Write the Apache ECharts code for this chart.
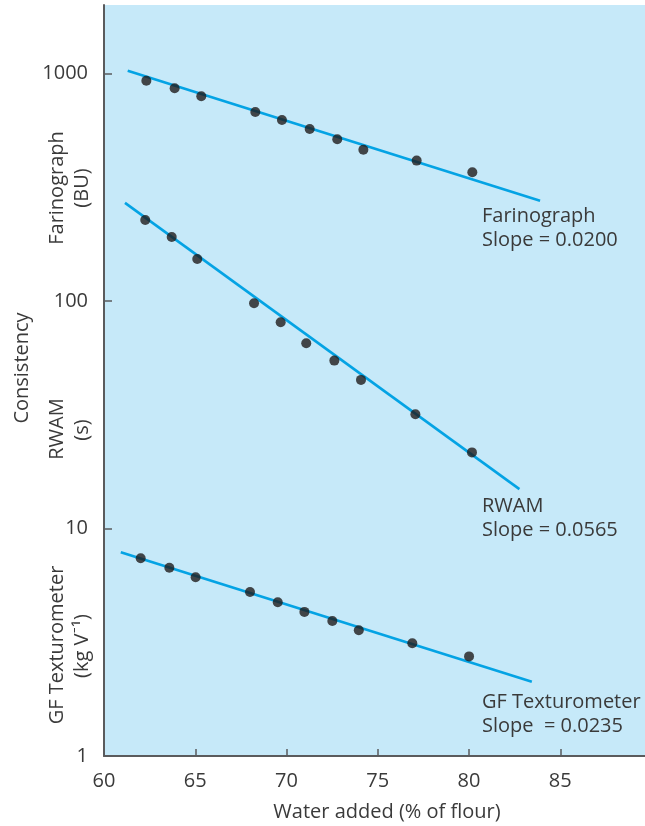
<!DOCTYPE html>
<html>
<head>
<meta charset="utf-8">
<script src="https://cdn.jsdelivr.net/npm/echarts@6/dist/echarts.min.js"></script>
<style>
  html, body { margin: 0; padding: 0; background: #ffffff; }
  #chart { width: 645px; height: 826px; }
</style>
</head>
<body>
<div id="chart"></div>
<script>
// ---- data ----
const xTicks = [60, 65, 70, 75, 80, 85];
const yTicks = [1, 10, 100, 1000];

const farinoWater = [62.32, 63.87, 65.33, 68.29, 69.75, 71.27, 72.78, 74.21, 77.13, 80.18];
const farinoBU = [929, 861, 794, 677, 625, 570, 514, 462, 414, 368];
const farinoFitWater = [61.3, 83.89];
const farinoFit = [1029, 276];

const rwamWater = [62.26, 63.71, 65.11, 68.22, 69.68, 71.08, 72.62, 74.08, 77.06, 80.16];
const rwamSec = [227, 191, 153, 97.7, 80.6, 65.2, 54.7, 45.0, 31.8, 21.6];
const rwamFitWater = [61.15, 82.76];
const rwamFit = [270, 14.9];

const gfWater = [62.01, 63.58, 65.02, 68.0, 69.52, 70.98, 72.51, 73.96, 76.89, 80.0];
const gfKgV = [7.40, 6.72, 6.10, 5.26, 4.74, 4.30, 3.92, 3.57, 3.13, 2.74];
const gfFitWater = [60.92, 83.44];
const gfFit = [7.86, 2.12];

// ---- helpers ----
const pair = (xs, ys) => xs.map((x, i) => [x, ys[i]]);
const FONT = '"Open Sans", Lato, sans-serif';
const FS = 20;
const TXT = '#3a3a3a';
const LINE = '#04a3e4';
const DOT = '#1f1b1c';
const AXIS = '#5a5b5d';

function fitLine(name, xs, ys) {
  return {
    name, type: 'line', data: pair(xs, ys), showSymbol: false, symbol: 'none',
    lineStyle: { color: LINE, width: 2.6 }, z: 2, silent: true, animation: false
  };
}
function dots(name, xs, ys) {
  return {
    name, type: 'scatter', data: pair(xs, ys), symbol: 'circle', symbolSize: 10,
    itemStyle: { color: DOT }, z: 3, silent: true, animation: false
  };
}
function txt(x, y, text, opts) {
  return Object.assign({
    type: 'text', x, y, silent: true,
    style: Object.assign({ text, font: FS + 'px ' + FONT, fill: TXT, textAlign: 'left', textVerticalAlign: 'middle' }, (opts && opts.style) || {})
  }, opts && opts.rotation !== undefined ? { rotation: opts.rotation } : {});
}
const R = Math.PI / 2;

const chart = echarts.init(document.getElementById('chart'), null, { renderer: 'canvas' });
chart.setOption({
  animation: false,
  backgroundColor: '#ffffff',
  grid: {
    left: 104, right: 0, top: 5, bottom: 70,
    show: true, backgroundColor: '#c6e9f9', borderWidth: 0
  },
  xAxis: {
    type: 'value', min: 60, max: 89.64, interval: 5,
    axisLine: { show: true, onZero: false, lineStyle: { color: AXIS, width: 2 } },
    axisTick: { show: true, inside: true, length: 7, customValues: xTicks, lineStyle: { color: AXIS, width: 1.5 } },
    axisLabel: { customValues: xTicks, margin: 15, color: TXT, fontSize: FS, fontFamily: FONT },
    splitLine: { show: false }
  },
  yAxis: {
    type: 'log', logBase: 10, min: 1, max: 2000,
    axisLine: { show: true, lineStyle: { color: AXIS, width: 2 } },
    axisTick: { show: true, inside: true, length: 8, customValues: yTicks, lineStyle: { color: AXIS, width: 1.5 } },
    axisLabel: { customValues: yTicks, margin: 16, color: TXT, fontSize: FS, fontFamily: FONT,
      formatter: v => String(Math.round(v)) },
    minorTick: { show: false },
    splitLine: { show: false }
  },
  series: [
    fitLine('Farinograph fit', farinoFitWater, farinoFit),
    fitLine('RWAM fit', rwamFitWater, rwamFit),
    fitLine('GF fit', gfFitWater, gfFit),
    dots('Farinograph', farinoWater, farinoBU),
    dots('RWAM', rwamWater, rwamSec),
    dots('GF Texturometer', gfWater, gfKgV)
  ],
  graphic: [
    txt(482, 216, 'Farinograph'),
    txt(482, 240, 'Slope = 0.0200'),
    txt(482, 506, 'RWAM'),
    txt(482, 530, 'Slope = 0.0565'),
    txt(482, 702, 'GF Texturometer'),
    txt(482, 726, 'Slope  = 0.0235'),
    txt(387, 812, 'Water added (% of flour)', { style: { textAlign: 'center' } }),
    txt(22, 368, 'Consistency', { rotation: R, style: { textAlign: 'center' } }),
    txt(57, 188, 'Farinograph', { rotation: R, style: { textAlign: 'center' } }),
    txt(82, 188, '(BU)', { rotation: R, style: { textAlign: 'center' } }),
    txt(57, 429, 'RWAM', { rotation: R, style: { textAlign: 'center' } }),
    txt(82, 430, '(s)', { rotation: R, style: { textAlign: 'center' } }),
    txt(57, 645, 'GF Texturometer', { rotation: R, style: { textAlign: 'center' } }),
    txt(82, 646, '(kg V\u207B\u00B9)', { rotation: R, style: { textAlign: 'center' } })
  ]
});
</script>
</body>
</html>
